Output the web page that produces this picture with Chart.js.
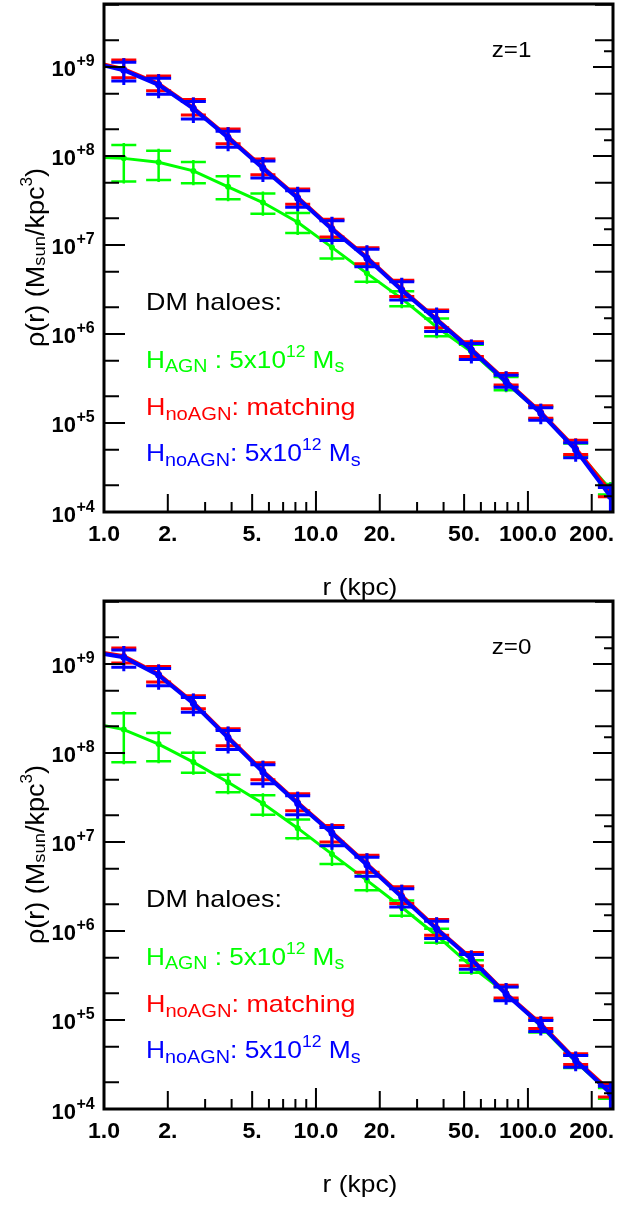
<!DOCTYPE html>
<html>
<head>
<meta charset="utf-8">
<title>DM halo density profiles</title>
<script src="https://cdn.jsdelivr.net/npm/chart.js@4"></script>
<style>
    body { margin: 0; background: #fff; }
    #wrap { position: relative; width: 633px; height: 1205px; }
    canvas { position: absolute; left: 0; }
</style>
</head>
<body>
<div id="wrap">
    <canvas id="panel-z1" width="633" height="605" style="top:0"></canvas>
    <canvas id="panel-z0" width="633" height="608" style="top:597px"></canvas>
</div>
<script>
// radial bins (kpc) - first bin lies just left of the axis, the curves run into the frame from it
const radius = [0.85, 1.24, 1.81, 2.64, 3.85, 5.62, 8.2, 11.9, 17.4, 25.4, 37.1, 54.1, 78.9, 115, 168, 245];

// z=1 : densities (Msun/kpc^3), error bars as dex above / below
const agnZ1     = [9.8e7, 9.4e7, 8.5e7, 6.8e7, 4.5e7, 3.0e7, 1.8e7, 9.4e6, 4.8e6, 2.5e6, 1.2e6, 6.3e5, 2.8e5, 1.3e5, 5.0e4, 1.8e4];
const agnZ1Up   = [null, 0.15, 0.13, 0.10, 0.12, 0.10, 0.105, 0.10, 0.082, 0.082, 0.094, 0.08, 0.07, 0.07, 0.07, 0.06];
const agnZ1Dn   = [null, 0.26, 0.20, 0.14, 0.14, 0.125, 0.12, 0.125, 0.095, 0.087, 0.105, 0.09, 0.08, 0.07, 0.07, 0.06];
const matchZ1   = [1.17e9, 9.5e8, 6.5e8, 3.5e8, 1.65e8, 7.5e7, 3.45e7, 1.55e7, 7.3e6, 3.2e6, 1.48e6, 6.8e5, 3.0e5, 1.33e5, 5.2e4, 1.7e4];
const matchZ1Up = [null, 0.10, 0.085, 0.09, 0.085, 0.09, 0.09, 0.10, 0.105, 0.10, 0.10, 0.08, 0.08, 0.07, 0.09, 0.06];
const matchZ1Dn = [null, 0.10, 0.08, 0.085, 0.08, 0.085, 0.08, 0.10, 0.075, 0.085, 0.10, 0.085, 0.05, 0.07, 0.07, 0.06];
const massZ1    = [1.14e9, 9.2e8, 6.3e8, 3.4e8, 1.6e8, 7.3e7, 3.35e7, 1.5e7, 7.1e6, 3.1e6, 1.44e6, 6.6e5, 2.9e5, 1.29e5, 5.0e4, 1.5e4];
const massZ1Up  = [null, 0.09, 0.075, 0.08, 0.075, 0.08, 0.085, 0.095, 0.10, 0.095, 0.095, 0.075, 0.075, 0.06, 0.08, 0.10];
const massZ1Dn  = [null, 0.12, 0.105, 0.115, 0.105, 0.11, 0.10, 0.125, 0.095, 0.11, 0.13, 0.105, 0.06, 0.08, 0.09, 0.30];

// z=0
const agnZ0     = [2.2e8, 1.83e8, 1.26e8, 7.9e7, 4.7e7, 2.7e7, 1.43e7, 7.3e6, 3.7e6, 1.85e6, 8.9e5, 4.0e5, 2.0e5, 8.5e4, 3.4e4, 1.5e4];
const agnZ0Up   = [null, 0.184, 0.124, 0.105, 0.082, 0.093, 0.097, 0.10, 0.09, 0.075, 0.075, 0.07, 0.07, 0.07, 0.07, 0.06];
const agnZ0Dn   = [null, 0.366, 0.194, 0.12, 0.112, 0.124, 0.112, 0.11, 0.11, 0.095, 0.082, 0.07, 0.07, 0.07, 0.07, 0.06];
const matchZ0   = [1.42e9, 1.23e9, 7.7e8, 3.7e8, 1.52e8, 6.3e7, 2.8e7, 1.29e7, 5.7e6, 2.5e6, 1.08e6, 4.95e5, 2.0e5, 9.1e4, 3.6e4, 1.6e4];
const matchZ0Up = [null, 0.09, 0.085, 0.075, 0.09, 0.09, 0.095, 0.075, 0.095, 0.10, 0.095, 0.065, 0.09, 0.06, 0.065, 0.07];
const matchZ0Dn = [null, 0.08, 0.09, 0.07, 0.10, 0.10, 0.095, 0.11, 0.095, 0.09, 0.08, 0.085, 0.055, 0.055, 0.055, 0.07];
const massZ0    = [1.38e9, 1.19e9, 7.5e8, 3.6e8, 1.48e8, 6.1e7, 2.7e7, 1.25e7, 5.5e6, 2.4e6, 1.05e6, 4.8e5, 1.95e5, 8.8e4, 3.5e4, 1.5e4];
const massZ0Up  = [null, 0.082, 0.075, 0.067, 0.082, 0.082, 0.087, 0.067, 0.087, 0.093, 0.087, 0.056, 0.08, 0.05, 0.056, 0.08];
const massZ0Dn  = [null, 0.112, 0.12, 0.10, 0.13, 0.13, 0.124, 0.14, 0.124, 0.112, 0.105, 0.112, 0.075, 0.075, 0.075, 0.30];

// axis ticks and labels
const xTicks = [1, 2, 3, 4, 5, 6, 7, 8, 9, 10, 20, 30, 40, 50, 60, 70, 80, 90, 100, 200];
const xLabelValues = [1, 2, 5, 10, 20, 50, 100, 200];
const xLabelTexts = ["1.0", "2.", "5.", "10.0", "20.", "50.", "100.0", "200."];
const yTicks = [1e4, 2e4, 5e4, 1e5, 2e5, 5e5, 1e6, 2e6, 5e6, 1e7, 2e7, 5e7, 1e8, 2e8, 5e8, 1e9, 2e9, 5e9];
const yShortTicks = [1.5e4, 1.5e5, 1.5e6, 1.5e7, 1.5e8, 1.5e9];
const yLabelPowers = [4, 5, 6, 7, 8, 9];

const GREEN = "#00ff00";
const RED = "#ff0000";
const BLUE = "#0000ff";
const FONT = "'Liberation Sans', Arial, sans-serif";

function fontOf(run) {
    return (run.bold ? "bold " : "") + run.size + "px " + FONT;
}

// draws a row of text pieces (for sub/superscripts), stretched horizontally
function drawRuns(ctx, runs, x, y, stretch, align) {
    ctx.save();
    ctx.translate(x, y);
    ctx.scale(stretch, 1);
    ctx.textAlign = "left";
    ctx.textBaseline = "alphabetic";
    let total = 0;
    runs.forEach(r => { ctx.font = fontOf(r); total += ctx.measureText(r.t).width; });
    let cx = align === "center" ? -total / 2 : (align === "right" ? -total : 0);
    runs.forEach(r => {
        ctx.font = fontOf(r);
        ctx.fillStyle = r.color || ctx.fillStyle;
        ctx.fillText(r.t, cx, r.dy || 0);
        cx += ctx.measureText(r.t).width;
    });
    ctx.restore();
}

function mantissa(v) {
    return Math.round(v / Math.pow(10, Math.floor(Math.log10(v) + 1e-9)));
}

// error bars, drawn right after each line so later lines cover them
const errorBars = {
    id: "errorBars",
    afterDatasetDraw(chart, args) {
        const ds = chart.data.datasets[args.index];
        const { ctx, chartArea: a, scales: { x, y } } = chart;
        ctx.save();
        ctx.beginPath();
        ctx.rect(a.left, a.top, a.right - a.left, a.bottom - a.top);
        ctx.clip();
        ctx.strokeStyle = ds.borderColor;
        ctx.lineWidth = ds.errWidth;
        ctx.beginPath();
        ds.data.forEach((p, i) => {
            if (ds.errUp[i] == null) return;
            const px = x.getPixelForValue(p.x);
            const yHi = y.getPixelForValue(p.y * Math.pow(10, ds.errUp[i]));
            const yLo = y.getPixelForValue(p.y / Math.pow(10, ds.errDn[i]));
            ctx.moveTo(px, yHi - ds.errOver);
            ctx.lineTo(px, yLo + ds.errOver);
            ctx.moveTo(px - 12.5, yHi);
            ctx.lineTo(px + 12.5, yHi);
            ctx.moveTo(px - 12.5, yLo);
            ctx.lineTo(px + 12.5, yLo);
        });
        ctx.stroke();
        ctx.restore();
    }
};

// frame, inward ticks and all the texts
const frameAndText = {
    id: "frameAndText",
    afterDatasetsDraw(chart, args, opts) {
        const { ctx, chartArea: a, scales: { x, y } } = chart;
        ctx.save();
        ctx.strokeStyle = "#000";
        ctx.fillStyle = "#000";

        ctx.lineWidth = 2;
        ctx.beginPath();
        xTicks.forEach(v => {
            const px = x.getPixelForValue(v);
            const m = mantissa(v);
            const len = m === 1 ? 21 : (m === 2 || m === 5 ? 18 : 10);
            ctx.moveTo(px, a.bottom);
            ctx.lineTo(px, a.bottom - len);
        });
        yTicks.forEach(v => {
            const py = y.getPixelForValue(v);
            const m = mantissa(v);
            ctx.moveTo(a.left, py);
            ctx.lineTo(a.left + (m === 1 ? 21 : 15), py);
            ctx.moveTo(a.right, py);
            ctx.lineTo(a.right - (m === 1 ? 20 : 18), py);
        });
        yShortTicks.forEach(v => {
            const py = y.getPixelForValue(v);
            ctx.moveTo(a.right, py);
            ctx.lineTo(a.right - 9, py);
        });
        ctx.stroke();

        ctx.lineWidth = 3;
        ctx.strokeRect(a.left, a.top, a.right - a.left, a.bottom - a.top);

        // y tick labels 10^+n
        yLabelPowers.forEach(p => {
            const py = y.getPixelForValue(Math.pow(10, p));
            ctx.font = "bold 22px " + FONT;
            ctx.textAlign = "right";
            ctx.fillText("10", 76, py + 9.5);
            ctx.font = "bold 16px " + FONT;
            ctx.textAlign = "left";
            ctx.fillText("+" + p, 76.5, py - 0.5);
        });

        // x tick labels
        xLabelValues.forEach((v, i) => {
            drawRuns(ctx, [{ t: xLabelTexts[i], size: 22, bold: true }], x.getPixelForValue(v), a.bottom + 29, 1.05, "center");
        });

        // axis titles
        drawRuns(ctx, [{ t: "r (kpc)", size: 24 }], 360, 595, 1.1, "center");
        ctx.save();
        ctx.translate(43.5, 257.5);
        ctx.rotate(-Math.PI / 2);
        drawRuns(ctx, [
            { t: "\u03c1(r) (M", size: 25 },
            { t: "sun", size: 17, dy: 1 },
            { t: "/kpc", size: 25 },
            { t: "3", size: 16, dy: -12 },
            { t: ")", size: 25 }
        ], 0, 0, 1.08, "center");
        ctx.restore();

        // redshift and legend texts
        drawRuns(ctx, [{ t: opts.redshift, size: 22 }], 491.7, 56.7, 1.1, "left");
        drawRuns(ctx, [{ t: "DM haloes:", size: 24, color: "#000" }], 146, 310, 1.12, "left");
        drawRuns(ctx, [
            { t: "H", size: 24, color: GREEN },
            { t: "AGN", size: 18, dy: 4.5, color: GREEN },
            { t: " : 5x10", size: 24, color: GREEN },
            { t: "12", size: 16, dy: -11, color: GREEN },
            { t: " M", size: 24, color: GREEN },
            { t: "s", size: 18, dy: 4.5, color: GREEN }
        ], 146, 367.5, 1.09, "left");
        drawRuns(ctx, [
            { t: "H", size: 24, color: RED },
            { t: "noAGN", size: 18, dy: 4.5, color: RED },
            { t: ": matching", size: 24, color: RED }
        ], 146, 415, 1.12, "left");
        drawRuns(ctx, [
            { t: "H", size: 24, color: BLUE },
            { t: "noAGN", size: 18, dy: 4.5, color: BLUE },
            { t: ": 5x10", size: 24, color: BLUE },
            { t: "12", size: 16, dy: -11, color: BLUE },
            { t: " M", size: 24, color: BLUE },
            { t: "s", size: 18, dy: 4.5, color: BLUE }
        ], 146, 461, 1.1, "left");
        ctx.restore();
    }
};

function series(label, values, up, dn, color, lineWidth, errWidth, errOver, dot) {
    return {
        label: label,
        data: radius.map((r, i) => ({ x: r, y: values[i] })),
        borderColor: color,
        backgroundColor: color,
        borderWidth: lineWidth,
        pointRadius: up.map(e => e == null ? 0 : dot),
        pointBackgroundColor: color,
        pointBorderWidth: 0,
        tension: 0,
        clip: 0,
        errUp: up,
        errDn: dn,
        errWidth: errWidth,
        errOver: errOver
    };
}

function makePanel(canvasId, redshift, agn, agnUp, agnDn, match, matchUp, matchDn, mass, massUp, massDn) {
    const canvas = document.getElementById(canvasId);
    const H = canvas.height;
    new Chart(canvas, {
        type: "line",
        data: {
            // first dataset is drawn last (on top)
            datasets: [
                series("HnoAGN 5x10^12", mass, massUp, massDn, BLUE, 4, 3, 4, 3.5),
                series("HnoAGN matching", match, matchUp, matchDn, RED, 3.5, 3, 2, 3),
                series("HAGN 5x10^12", agn, agnUp, agnDn, GREEN, 3, 2.5, 2, 3)
            ]
        },
        options: {
            responsive: false,
            animation: false,
            devicePixelRatio: 1,
            layout: { padding: { top: 4, right: 20, left: 0, bottom: 0 } },
            plugins: {
                legend: { display: false },
                tooltip: { enabled: false },
                frameAndText: { redshift: redshift }
            },
            scales: {
                x: {
                    type: "logarithmic",
                    min: 1,
                    max: 252,
                    grid: { display: false, drawTicks: false },
                    border: { display: false },
                    ticks: { display: false },
                    afterBuildTicks: s => { s.ticks = xTicks.map(v => ({ value: v })); },
                    afterFit: s => { s.height = H - 512; }
                },
                y: {
                    type: "logarithmic",
                    min: 1e4,
                    max: 5.1e9,
                    grid: { display: false, drawTicks: false },
                    border: { display: false },
                    ticks: { display: false },
                    afterBuildTicks: s => { s.ticks = yTicks.map(v => ({ value: v })); },
                    afterFit: s => { s.width = 104; }
                }
            }
        },
        plugins: [errorBars, frameAndText]
    });
}

makePanel("panel-z1", "z=1", agnZ1, agnZ1Up, agnZ1Dn, matchZ1, matchZ1Up, matchZ1Dn, massZ1, massZ1Up, massZ1Dn);
makePanel("panel-z0", "z=0", agnZ0, agnZ0Up, agnZ0Dn, matchZ0, matchZ0Up, matchZ0Dn, massZ0, massZ0Up, massZ0Dn);
</script>
</body>
</html>
